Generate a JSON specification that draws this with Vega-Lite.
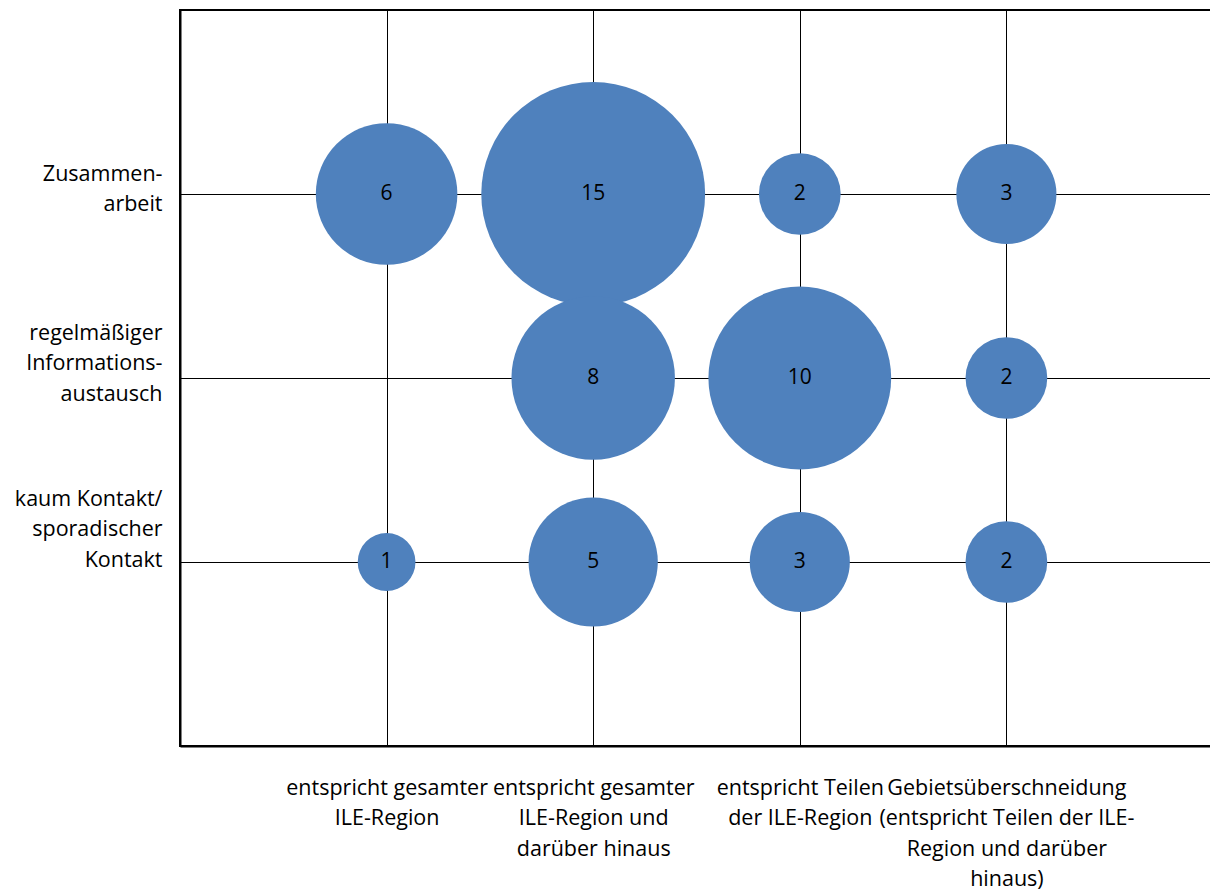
{
  "$schema": "https://vega.github.io/schema/vega-lite/v6.json",
  "autosize": "none",
  "padding": {"left": 180, "top": 10, "right": 0, "bottom": 144},
  "width": 1033,
  "height": 736,
  "background": "white",
  "config": {
    "view": {"stroke": "black", "strokeWidth": 2},
    "font": "Open Sans"
  },
  "data": {
    "values": [
      {"gebiet": 1, "kontakt": 3, "anzahl": 6},
      {"gebiet": 2, "kontakt": 3, "anzahl": 15},
      {"gebiet": 3, "kontakt": 3, "anzahl": 2},
      {"gebiet": 4, "kontakt": 3, "anzahl": 3},
      {"gebiet": 2, "kontakt": 2, "anzahl": 8},
      {"gebiet": 3, "kontakt": 2, "anzahl": 10},
      {"gebiet": 4, "kontakt": 2, "anzahl": 2},
      {"gebiet": 1, "kontakt": 1, "anzahl": 1},
      {"gebiet": 2, "kontakt": 1, "anzahl": 5},
      {"gebiet": 3, "kontakt": 1, "anzahl": 3},
      {"gebiet": 4, "kontakt": 1, "anzahl": 2}
    ]
  },
  "encoding": {
    "x": {
      "field": "gebiet",
      "type": "quantitative",
      "scale": {"domain": [0, 5], "nice": false, "zero": false},
      "axis": {
        "title": null,
        "values": [1, 2, 3, 4],
        "ticks": false,
        "grid": true,
        "gridColor": "black",
        "gridWidth": 1,
        "gridOpacity": 1,
        "domainColor": "black",
        "domainWidth": 2,
        "labelFontSize": 21.5,
        "labelColor": "black",
        "labelPadding": 42,
        "labelLineHeight": 30.5,
        "labelBaseline": "middle",
        "labelAlign": "center",
        "labelFlush": false,
        "labelOverlap": false,
        "labelLimit": 400,
        "labelExpr": "datum.value == 1 ? ['entspricht gesamter', 'ILE-Region'] : datum.value == 2 ? ['entspricht gesamter', 'ILE-Region und', 'darüber hinaus'] : datum.value == 3 ? ['entspricht Teilen', 'der ILE-Region'] : ['Gebietsüberschneidung', '(entspricht Teilen der ILE-', 'Region und darüber', 'hinaus)']"
      }
    },
    "y": {
      "field": "kontakt",
      "type": "quantitative",
      "scale": {"domain": [0, 4], "nice": false},
      "axis": {
        "title": null,
        "values": [1, 2, 3],
        "ticks": false,
        "grid": true,
        "gridColor": "black",
        "gridWidth": 1,
        "gridOpacity": 1,
        "domainColor": "black",
        "domainWidth": 2,
        "labelFontSize": 21.5,
        "labelColor": "black",
        "labelPadding": 18,
        "labelLineHeight": 30.5,
        "labelBaseline": "middle",
        "labelAlign": "right",
        "labelFlush": false,
        "labelOverlap": false,
        "labelLimit": 400,
        "labelOffset": {"expr": "datum.value == 3 ? -20 : datum.value == 2 ? -45 : -63"},
        "labelExpr": "datum.value == 3 ? ['Zusammen-', 'arbeit'] : datum.value == 2 ? ['regelmäßiger', 'Informations-', 'austausch'] : ['kaum Kontakt/', 'sporadischer', 'Kontakt']"
      }
    }
  },
  "layer": [
    {
      "mark": {"type": "circle", "color": "#4F81BD", "opacity": 1, "stroke": null},
      "encoding": {
        "size": {
          "field": "anzahl",
          "type": "quantitative",
          "scale": {"type": "linear", "domain": [0, 15], "range": [0, 50115], "zero": true},
          "legend": null
        }
      }
    },
    {
      "mark": {"type": "text", "fontSize": 21, "color": "black", "baseline": "middle", "align": "center"},
      "encoding": {
        "text": {"field": "anzahl", "type": "quantitative"}
      }
    }
  ]
}
